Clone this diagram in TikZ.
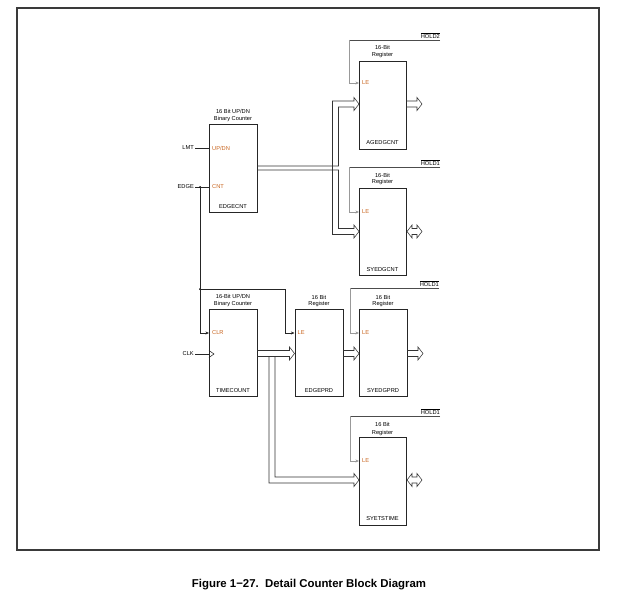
\documentclass[tikz,border=0pt]{standalone}
\usepackage{fontspec}
\setmainfont{Liberation Sans}
\usetikzlibrary{arrows.meta}
\definecolor{pincol}{HTML}{C8641E}
\definecolor{frmcol}{HTML}{3A3A3A}
\newcommand\ovl[1]{\ensuremath{\overline{\mbox{#1}}}}
\tikzset{
  blk/.style={draw=black!85, line width=0.9pt, inner sep=0pt, anchor=north west},
  txt/.style={font=\fontsize{5.7}{6.2}\selectfont, inner sep=0pt},
  pinlbl/.style={txt, text=pincol, anchor=west},
  bus/.style={line width=0.55pt, draw=black!80, line join=miter},
  sig/.style={line width=0.55pt, draw=black!85},
  sarr/.style={-{Stealth[length=3.6pt,width=3pt]}},
  holdh/.style={line width=0.6pt, draw=black!70},
  holdv/.style={line width=0.5pt, draw=black!40},
}
\begin{document}
\begin{tikzpicture}[x=1pt,y=-1pt]
\useasboundingbox (0,0) rectangle (620,594);
% frame
\draw[frmcol, line width=1.3pt] (17,8) rectangle (599,550);

% ---------- boxes ----------
\node[blk, minimum width=48pt, minimum height=88pt] (ec) at (209,124) {};
\node[blk, minimum width=47pt, minimum height=88pt] (ra) at (359,61) {};
\node[blk, minimum width=47pt, minimum height=87pt] (rb) at (359,188) {};
\node[blk, minimum width=48pt, minimum height=87pt] (tc) at (209,309) {};
\node[blk, minimum width=48.5pt, minimum height=87pt] (ep) at (294.5,309) {};
\node[blk, minimum width=48pt, minimum height=87pt] (sp) at (359,309) {};
\node[blk, minimum width=47pt, minimum height=88pt] (st) at (359,437) {};

% ---------- titles ----------
\node[txt] (ect1) at (233,111) {16 Bit UP/DN};
\node[txt] (ect2) at (233,119) {Binary Counter};
\node[txt] (rat1) at (382.5,47) {16-Bit};
\node[txt] (rat2) at (382.5,55) {Register};
\node[txt] (rbt1) at (382.5,175) {16-Bit};
\node[txt] (rbt2) at (382.5,182) {Register};
\node[txt] (tct1) at (233,296) {16-Bit UP/DN};
\node[txt] (tct2) at (233,304) {Binary Counter};
\node[txt] (ept1) at (319,297) {16 Bit};
\node[txt] (ept2) at (319,304) {Register};
\node[txt] (spt1) at (383,297) {16 Bit};
\node[txt] (spt2) at (383,304) {Register};
\node[txt] (stt1) at (382.5,424) {16 Bit};
\node[txt] (stt2) at (382.5,433) {Register};

% ---------- bottom names ----------
\node[txt] (ecn) at (233,207) {EDGECNT};
\node[txt] (ran) at (382.5,143) {AGEDGCNT};
\node[txt] (rbn) at (382.5,270) {SYEDGCNT};
\node[txt] (tcn) at (233,391) {TIMECOUNT};
\node[txt] (epn) at (319,391) {EDGEPRD};
\node[txt] (spn) at (383,391) {SYEDGPRD};
\node[txt] (stn) at (382.5,519) {SYETSTIME};

% ---------- pin labels ----------
\node[pinlbl] (pud) at (212,148) {UP/DN};
\node[pinlbl] (pcnt) at (212,187) {CNT};
\node[pinlbl] (pclr) at (212,333) {CLR};
\node[pinlbl] (pla) at (362,83) {LE};
\node[pinlbl] (plb) at (362,212) {LE};
\node[pinlbl] (ple) at (297.5,333) {LE};
\node[pinlbl] (pls) at (362,333) {LE};
\node[pinlbl] (plt) at (362,461) {LE};

% ---------- external inputs ----------
\node[txt, anchor=east] (lmt) at (194,148) {LMT};
\node[txt, anchor=east] (edge) at (194,187) {EDGE};
\node[txt, anchor=east] (clk) at (194,354) {CLK};
\coordinate (jedge) at (200,187);
\coordinate (jclr) at (200,289);
\draw[sig] (lmt.east) ++(1,0) -- (ec.west |- lmt.east);
\draw[sig] (edge.east) ++(1,0) -- (ec.west |- edge.east);
\fill (jedge) circle (1pt);
\fill (jclr) circle (1pt);
\draw[sig, sarr] (jedge) -- (200,333) -- (tc.west |- pclr);
\draw[sig, sarr] (jclr) -- (285,289) -- (285,333) -- (ep.west |- ple);
\draw[sig] (clk.east) ++(1,0) -- (tc.west |- clk.east);
\draw[sig] (209,350.5) -- (214,354) -- (209,357.5);

% ---------- HOLD lines ----------
\node[txt, anchor=south east] (h2) at (440,38.5) {\ovl{HOLD2}};
\draw[holdh] (h2.south east) ++(0,1.5) -- (349,40);
\draw[holdv, sarr] (349,40) -- (349,83) -- (ra.west |- pla);
\node[txt, anchor=south east] (h1a) at (440,165.5) {\ovl{HOLD1}};
\draw[holdh] (h1a.south east) ++(0,1.5) -- (349,167);
\draw[holdv, sarr] (349,167) -- (349,212) -- (rb.west |- plb);
\node[txt, anchor=south east] (h1b) at (439,286.5) {\ovl{HOLD1}};
\draw[holdh] (h1b.south east) ++(0,1.5) -- (350,288);
\draw[holdv, sarr] (350,288) -- (350,333) -- (sp.west |- pls);
\node[txt, anchor=south east] (h1c) at (440,414.5) {\ovl{HOLD1}};
\draw[holdh] (h1c.south east) ++(0,1.5) -- (350,416);
\draw[holdv, sarr] (350,416) -- (350,461) -- (st.west |- plt);

% ---------- buses ----------
% EDGECNT -> AGEDGCNT / SYEDGCNT
\draw[bus] (257,166) -- (338.5,166) -- (338.5,107) -- (354,107) -- (354,110.5) -- (ra.west |- 0,104) -- (354,97.5) -- (354,101) -- (332.5,101) -- (332.5,234.5) -- (354,234.5) -- (354,238) -- (rb.west |- 0,231.5) -- (354,225) -- (354,228.5) -- (338.5,228.5) -- (338.5,170) -- (257,170);
% AGEDGCNT out
\draw[bus] (406,101) -- (417,101) -- (417,97.5) -- (422,104) -- (417,110.5) -- (417,107) -- (406,107);
% SYEDGCNT bidirectional
\draw[bus] (412,228.5) -- (417,228.5) -- (417,225) -- (422,231.5) -- (417,238) -- (417,234.5) -- (412,234.5) -- (412,238) -- (407,231.5) -- (412,225) -- cycle;
% TIMECOUNT -> EDGEPRD
\draw[bus] (257,350.5) -- (289.5,350.5) -- (289.5,347) -- (ep.west |- 0,353.5) -- (289.5,360) -- (289.5,356.5) -- (257,356.5);
% TIMECOUNT -> SYETSTIME
\draw[bus] (269,356.5) -- (269,483) -- (354,483) -- (354,486.5) -- (st.west |- 0,480) -- (354,473.5) -- (354,477) -- (275,477) -- (275,356.5);
% EDGEPRD -> SYEDGPRD
\draw[bus] (343,350.5) -- (354,350.5) -- (354,347) -- (sp.west |- 0,353.5) -- (354,360) -- (354,356.5) -- (343,356.5);
% SYEDGPRD out
\draw[bus] (407,350.5) -- (418,350.5) -- (418,347) -- (423,353.5) -- (418,360) -- (418,356.5) -- (407,356.5);
% SYETSTIME bidirectional
\draw[bus] (412,477) -- (417,477) -- (417,473.5) -- (422,480) -- (417,486.5) -- (417,483) -- (412,483) -- (412,486.5) -- (407,480) -- (412,473.5) -- cycle;

% ---------- caption ----------
\node[font=\bfseries\fontsize{11.4}{13}\selectfont, inner sep=0pt] (cap) at (309,585) {Figure 1−27.\ \ Detail Counter Block Diagram};
\end{tikzpicture}
\end{document}
